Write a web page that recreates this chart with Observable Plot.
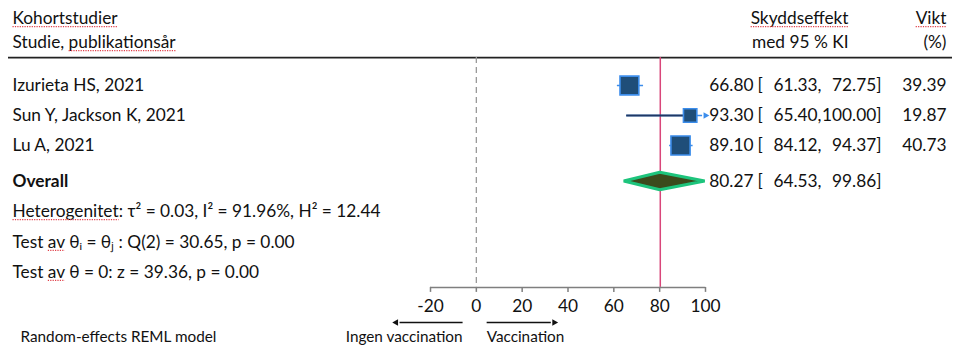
<!DOCTYPE html>
<html>
<head>
<meta charset="utf-8">
<script src="https://cdn.jsdelivr.net/npm/d3@7"></script>
<script src="https://cdn.jsdelivr.net/npm/@observablehq/plot@0.6"></script>
<style>
  html, body { margin: 0; padding: 0; background: #fff; }
  #chart { width: 960px; height: 345px; }
  svg text { font-family: Lato, "Open Sans", sans-serif; }
</style>
</head>
<body>
<div id="chart"></div>
<script>
// ---- data ----
const headerLeft = ["Kohortstudier", "Studie, publikationsår"];
const headerEffect = ["Skyddseffekt", "med 95 % KI"];
const headerWeight = ["Vikt", "(%)"];
const studies = ["Izurieta HS, 2021", "Sun Y, Jackson K, 2021", "Lu A, 2021"];
const estimates = [66.80, 93.30, 89.10];
const lowerCI = [61.33, 65.40, 84.12];
const upperCI = [72.75, 100.00, 94.37];
const weights = [39.39, 19.87, 40.73];
const overallLabel = "Overall";
const overallValues = [80.27, 64.53, 99.86]; // estimate, lower, upper
const statLines = [
  "Heterogenitet: τ² = 0.03, I² = 91.96%, H² = 12.44",
  "Test av θᵢ = θⱼ : Q(2) = 30.65, p = 0.00",
  "Test av θ = 0: z = 39.36, p = 0.00"
];
const xTicks = [-20, 0, 20, 40, 60, 80, 100];
const directionLabels = ["Ingen vaccination", "Vaccination"];
const modelNote = "Random-effects REML model";

// ---- layout (row units) ----
const headerRows = [-1.23, -0.43];
const ruleRow = 0.07;
const studyRow = i => 1 + i;
const overallRow = 4.2;
const statRows = [5.2, 6.23, 7.23];
const axisRow = 7.73;
const arrowRow = 8.9;
const noteRow = 9.38;
const xMax = 100;
const FS = 17.3;

const fmt = d3.format(".2f");
const idx = studies.map((_, i) => i);
const truncated = idx.filter(i => upperCI[i] >= xMax);

const navy = "#1F3864";
const boxFill = "#1F4E79";
const boxStroke = "#3C8DEB";
const olive = "#3B4A1C";
const green = "#1DC47C";
const red = "#D9467A";

const [oEst, oLo, oHi] = overallValues;
const dh = 0.29;
const diamond = [
  {x: oLo, y1: overallRow, y2: overallRow},
  {x: oEst, y1: overallRow - dh, y2: overallRow + dh},
  {x: oHi, y1: overallRow, y2: overallRow}
];

const directions = [
  {label: directionLabels[0], from: -6, to: -35, rot: -90},
  {label: directionLabels[1], from: 4.5, to: 34, rot: 90}
];

const txt = (data, opts) => Plot.text(data, {frameAnchor: "left", fontSize: FS, fill: "#111", ...opts});
const leftText = (data, opts) => txt(data, {textAnchor: "start", ...opts});

const chart = Plot.plot({
  width: 960,
  height: 345,
  marginTop: 0, marginBottom: 0, marginLeft: 0, marginRight: 0,
  x: {domain: [-20, 100], range: [430, 705], axis: null},
  y: {domain: [-55 / 30, 290 / 30], range: [0, 345], axis: null},
  r: {type: "sqrt", domain: [0, d3.max(weights)], range: [0, 10.8]},
  style: {background: "#fff", overflow: "visible"},
  marks: [
    // headers
    leftText(headerLeft, {y: (d, i) => headerRows[i], dx: 12}),
    txt(headerEffect, {y: (d, i) => headerRows[i], textAnchor: "end", dx: 848}),
    txt(headerWeight, {y: (d, i) => headerRows[i], textAnchor: "end", dx: 946}),
    Plot.ruleY([ruleRow], {stroke: "#222", strokeWidth: 1.6, insetLeft: 8, insetRight: 8}),

    // reference lines
    Plot.ruleX([0], {y1: ruleRow, y2: axisRow, stroke: "#999", strokeWidth: 1.3, strokeDasharray: "6,4"}),
    Plot.ruleX([oEst], {y1: ruleRow, y2: axisRow, stroke: red, strokeWidth: 1.5}),

    // study labels
    leftText(studies, {y: (d, i) => studyRow(i), dx: 12}),

    // confidence intervals
    Plot.link(idx, {x1: i => lowerCI[i], x2: i => Math.min(upperCI[i], xMax - 1.5), y1: i => studyRow(i), y2: i => studyRow(i), stroke: boxStroke, strokeWidth: 1.5}),
    Plot.link(truncated, {x1: i => lowerCI[i], x2: i => estimates[i], y1: i => studyRow(i), y2: i => studyRow(i), stroke: navy, strokeWidth: 1.8}),
    Plot.dot(truncated, {x: i => upperCI[i], y: i => studyRow(i), symbol: "triangle2", rotate: 90, r: 3.2, fill: boxStroke}),
    Plot.dot(idx, {x: i => estimates[i], y: i => studyRow(i), r: i => weights[i], symbol: "square", fill: boxFill, stroke: boxStroke, strokeWidth: 1.6}),

    // value columns
    txt(idx, {y: i => studyRow(i), text: i => fmt(estimates[i]), textAnchor: "end", dx: 753}),
    txt(idx, {y: i => studyRow(i), text: () => "[", textAnchor: "start", dx: 757}),
    txt(idx, {y: i => studyRow(i), text: i => fmt(lowerCI[i]) + ",", textAnchor: "end", dx: 821}),
    txt(idx, {y: i => studyRow(i), text: i => fmt(upperCI[i]) + "]", textAnchor: "end", dx: 881}),
    txt(idx, {y: i => studyRow(i), text: i => fmt(weights[i]), textAnchor: "end", dx: 946}),

    // overall
    leftText([overallLabel], {y: overallRow, dx: 12, fontWeight: "bold"}),
    Plot.areaY(diamond, {x: "x", y1: "y1", y2: "y2", fill: olive, stroke: green, strokeWidth: 3, strokeLinejoin: "miter"}),
    txt([oEst], {y: overallRow, text: d => fmt(d), textAnchor: "end", dx: 753}),
    txt(["["], {y: overallRow, textAnchor: "start", dx: 757}),
    txt([oLo], {y: overallRow, text: d => fmt(d) + ",", textAnchor: "end", dx: 821}),
    txt([oHi], {y: overallRow, text: d => fmt(d) + "]", textAnchor: "end", dx: 881}),

    // statistics
    leftText(statLines, {y: (d, i) => statRows[i], dx: 12}),

    // x axis
    Plot.ruleY([axisRow], {x1: -20, x2: 100, stroke: "#7f7f7f", strokeWidth: 1.5}),
    Plot.ruleX(xTicks, {y1: axisRow, y2: axisRow + 5 / 30, stroke: "#7f7f7f", strokeWidth: 1.5}),
    Plot.text(xTicks, {x: d => d, y: axisRow, dy: 19, fontSize: FS, fill: "#111"}),

    // direction arrows
    Plot.link(directions, {x1: "from", x2: d => d.to - Math.sign(d.to) * 1.5, y1: arrowRow, y2: arrowRow, stroke: "#111", strokeWidth: 1.5}),
    Plot.dot(directions, {x: "to", y: arrowRow, symbol: "triangle2", rotate: "rot", r: 3.2, fill: "#111"}),
    Plot.text(directions.slice(0, 1), {x: "from", y: noteRow, text: "label", textAnchor: "end", fontSize: 15.3, fill: "#111"}),
    Plot.text(directions.slice(1), {x: "from", y: noteRow, text: "label", textAnchor: "start", fontSize: 15.3, fill: "#111"}),

    // model note
    leftText([modelNote], {y: noteRow, dx: 20, fontSize: 15.3})
  ]
});

document.getElementById("chart").appendChild(chart);

// spell-check style dotted red squiggles under selected words
const squiggle = ["Kohortstudier", "publikationsår", "Skyddseffekt", "Vikt", "Heterogenitet", " av "];
const marks = [];
d3.select(chart).selectAll("text").each(function () {
  const el = this;
  if (el.children.length) return;
  const s = el.textContent;
  const hit = squiggle.find(w => s.includes(w));
  if (!hit) return;
  const word = hit.trim();
  const k = hit.startsWith(" ") ? s.indexOf(hit) + 1 : s.indexOf(word);
  try {
    const a = el.getExtentOfChar(k);
    const b = el.getExtentOfChar(k + word.length - 1);
    marks.push({x1: a.x, x2: b.x + b.width, y: a.y + a.height - 1.5, parent: el.parentNode, el});
  } catch (e) {}
});
for (const m of marks) {
  const ctm = m.el.getCTM();
  const svgCtm = chart.getCTM ? chart.getScreenCTM() : null;
  d3.select(m.el.parentNode).append("line")
    .attr("x1", m.x1).attr("x2", m.x2).attr("y1", m.y).attr("y2", m.y)
    .attr("transform", m.el.getAttribute("transform"))
    .attr("stroke", "#e0404a").attr("stroke-width", 1.2).attr("stroke-dasharray", "1.2,1.2");
}
</script>
</body>
</html>
